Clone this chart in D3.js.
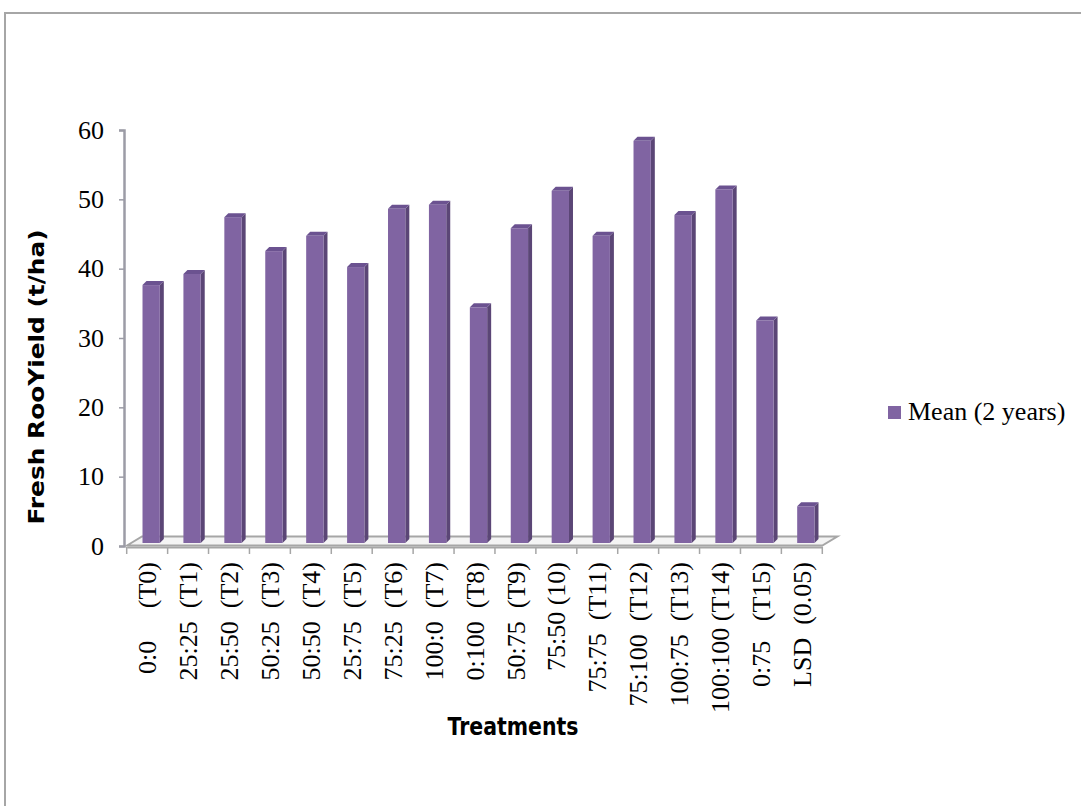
<!DOCTYPE html>
<html>
<head>
<meta charset="utf-8">
<script src="https://cdn.jsdelivr.net/npm/d3@7"></script>
<style>
  html, body { margin: 0; padding: 0; background: #fff; }
  svg { display: block; }
  .cat { white-space: pre; }
</style>
</head>
<body>
<script>
// ---- data ----
const categories = [
  "0:0     (T0)", "25:25  (T1)", "25:50  (T2)", "50:25  (T3)", "50:50  (T4)",
  "25:75  (T5)", "75:25  (T6)", "100:0  (T7)", "0:100  (T8)", "50:75  (T9)",
  "75:50 (10)", "75:75  (T11)", "75:100  (T12)", "100:75  (T13)", "100:100 (T14)",
  "0:75   (T15)", "LSD  (0.05)"
];
const meanValues = [37.2, 38.8, 47.0, 42.1, 44.3, 39.8, 48.2, 48.8, 34.0, 45.4,
                    50.8, 44.3, 58.0, 47.3, 51.0, 32.1, 5.3];
const yTicks = [0, 10, 20, 30, 40, 50, 60];
const seriesName = "Mean (2 years)";
const yTitle = "Fresh RooYield (t/ha)";
const xTitle = "Treatments";

// ---- layout ----
const W = 1081, H = 806;
const svg = d3.select("body").append("svg").attr("width", W).attr("height", H);

// outer frame
svg.append("rect").attr("x", 5).attr("y", 13).attr("width", 1200).attr("height", 1000)
  .attr("fill", "none").attr("stroke", "#a6a6a6").attr("stroke-width", 2);

const x = d3.scaleBand().domain(categories).range([126.7, 822.3]).padding(0);
const y = d3.scaleLinear().domain([0, 60]).range([546, 130]);

const depthX = 15, depthY = -9;   // floor depth
const barDX = 4, barDY = -4;      // bar side depth
const barShift = 4, barLift = 3;
const bw = x.bandwidth() * 0.423;

// floor
const fx0 = 127, fx1 = 822.3, fy = 545.5;
svg.append("polygon")
  .attr("points", [[fx0, fy], [fx0 + depthX, fy + depthY], [fx1 + depthX, fy + depthY], [fx1, fy]].map(p => p.join(",")).join(" "))
  .attr("fill", "#f4f4f4").attr("stroke", "#a6a6a6").attr("stroke-width", 2);

// y axis
const yAxis = d3.axisLeft(y).tickValues(yTicks).tickSize(5).tickPadding(15).tickFormat(d3.format("d"));
const gy = svg.append("g").attr("transform", "translate(124,0)").call(yAxis);
gy.select(".domain").attr("stroke", "#9c9ca6").attr("stroke-width", 2.5);
gy.selectAll(".tick line").attr("stroke", "#9c9ca6").attr("stroke-width", 1.5);
gy.selectAll(".tick text").attr("font-family", "'Liberation Serif', 'Times New Roman', serif")
  .attr("font-size", 26).attr("fill", "#000");

// x axis (category boundary ticks)
const xAxis = d3.axisBottom(x).tickSize(0).tickFormat("");
const gx = svg.append("g").attr("transform", "translate(0,547)").call(xAxis);
gx.select(".domain").attr("stroke", "#a6a6a6").attr("stroke-width", 2);
gx.selectAll(".tick").remove();
const bounds = categories.map(c => x(c)).concat([x(categories[categories.length - 1]) + x.bandwidth()]);
gx.selectAll("line.bt").data(bounds).enter().append("line").attr("class", "bt")
  .attr("x1", d => d).attr("x2", d => d).attr("y1", 0).attr("y2", 7)
  .attr("stroke", "#a6a6a6").attr("stroke-width", 1.5);

// bars (3D look: side, top, front)
const bars = svg.append("g");
categories.forEach((c, i) => {
  const v = meanValues[i];
  const xl = x(c) + x.bandwidth() / 2 + barShift - bw / 2;
  const xr = xl + bw;
  const yt = y(v) - barLift, yb = y(0) - barLift;
  const g = bars.append("g");
  g.append("polygon")
    .attr("points", [[xr, yb], [xr + barDX, yb + barDY], [xr + barDX, yt + barDY], [xr, yt]].map(p => p.join(",")).join(" "))
    .attr("fill", "#5b4676");
  g.append("polygon")
    .attr("points", [[xl, yt], [xl + barDX, yt + barDY], [xr + barDX, yt + barDY], [xr, yt]].map(p => p.join(",")).join(" "))
    .attr("fill", "#6b5290");
  g.append("rect").attr("x", xl).attr("y", yt).attr("width", bw).attr("height", yb - yt)
    .attr("fill", "#8064a2");
});

// category labels
svg.append("g").selectAll("text").data(categories).enter().append("text")
  .attr("class", "cat")
  .attr("transform", d => `translate(${x(d) + x.bandwidth() / 2},562) rotate(-90)`)
  .attr("text-anchor", "end").attr("dy", "0.35em")
  .attr("font-family", "'Liberation Serif', 'Times New Roman', serif")
  .attr("font-size", 26).attr("fill", "#000")
  .text(d => d);

// axis titles
svg.append("text")
  .attr("transform", "translate(44,377) rotate(-90)")
  .attr("text-anchor", "middle")
  .attr("font-family", "'DejaVu Sans', Verdana, sans-serif").attr("font-weight", "bold")
  .attr("font-size", 21).attr("fill", "#000")
  .attr("textLength", 295).attr("lengthAdjust", "spacingAndGlyphs")
  .text(yTitle);

svg.append("text")
  .attr("x", 513).attr("y", 735)
  .attr("text-anchor", "middle")
  .attr("font-family", "'DejaVu Sans', sans-serif").attr("font-weight", "bold")
  .attr("font-size", 24).attr("fill", "#000")
  .attr("textLength", 131).attr("lengthAdjust", "spacingAndGlyphs")
  .text(xTitle);

// legend
const lg = svg.append("g").attr("transform", "translate(888,406)");
lg.append("rect").attr("x", 0).attr("y", 0).attr("width", 13).attr("height", 13).attr("fill", "#8064a2");
lg.append("text").attr("x", 20).attr("y", 14)
  .attr("font-family", "'Liberation Serif', 'Times New Roman', serif")
  .attr("font-size", 26).attr("fill", "#000")
  .text(seriesName);
</script>
</body>
</html>
